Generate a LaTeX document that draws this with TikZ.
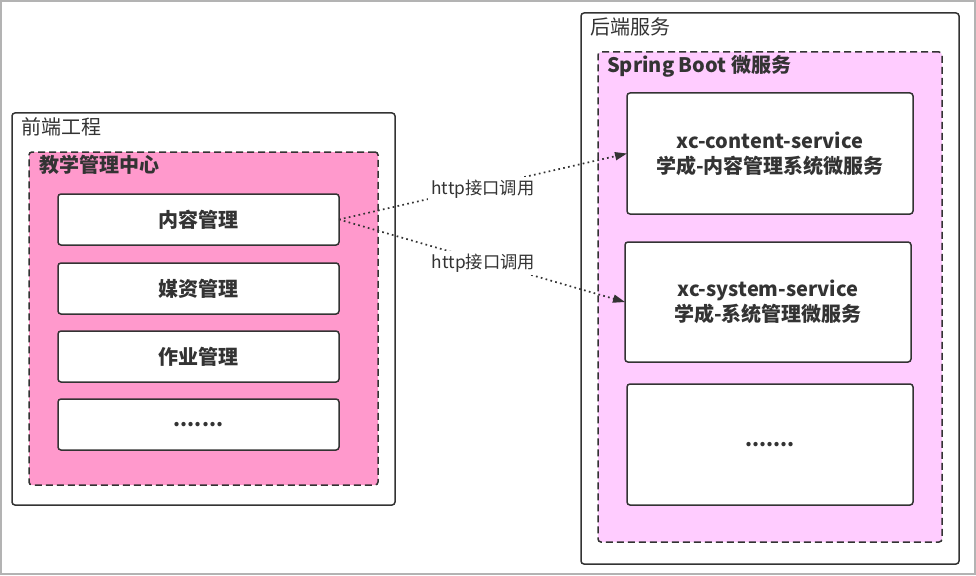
\documentclass[tikz,border=0pt]{standalone}
\usepackage{fontspec}
\setmainfont{Noto Sans CJK SC}
\usetikzlibrary{arrows.meta}
\definecolor{txt}{HTML}{333333}
\definecolor{pinkA}{HTML}{FF99CC}
\definecolor{pinkB}{HTML}{FFCCFF}
\definecolor{frame}{HTML}{B3B3B3}
\begin{document}
\begin{tikzpicture}[x=1pt,y=-1pt,
  cbox/.style={draw=txt,line width=1.5pt,rounded corners=3pt,fill=white,inner sep=0pt,outer sep=0pt,text=txt,font=\fontsize{20}{25}\selectfont\bfseries,align=center},
  dashbox/.style={draw=txt,line width=1.5pt,rounded corners=3pt,dash pattern=on 7pt off 4pt,inner sep=0pt,outer sep=0pt},
  grpbox/.style={draw=txt,line width=1.5pt,rounded corners=3pt,fill=white,inner sep=0pt,outer sep=0pt},
  ttl/.style={anchor=west,text=txt,inner sep=0pt,font=\fontsize{20}{24}\selectfont},
  btl/.style={anchor=west,text=txt,inner sep=0pt,font=\fontsize{20}{24}\selectfont\bfseries},
  call/.style={draw=txt,line width=1.7pt,dash pattern=on 1.7pt off 3.3pt,-{Triangle[length=12pt,width=8pt]}},
  clbl/.style={fill=white,text=txt,inner sep=3pt,font=\fontsize{17.3}{20}\selectfont}]
\useasboundingbox (0,0) rectangle (976,575);
\draw[frame,line width=2pt] (1,1) rectangle (975,574);
% front end
\node[grpbox,minimum width=383pt,minimum height=392pt] (fe) at (203.5,309) {};
\node[ttl] (fet) at (21,127) {前端工程};
\node[dashbox,fill=pinkA,minimum width=349pt,minimum height=333pt] (jx) at (203.5,318.5) {};
\node[btl] (jxt) at (39,165) {教学管理中心};
\node[cbox,minimum width=281pt,minimum height=51pt] (m1) at (198.5,219.5) {内容管理};
\node[cbox,minimum width=281pt,minimum height=51pt] (m2) at (198.5,288.5) {媒资管理};
\node[cbox,minimum width=281pt,minimum height=51pt] (m3) at (198.5,356.5) {作业管理};
\node[cbox,minimum width=281pt,minimum height=51pt] (m4) at (198.5,424.5) {.......};
% back end
\node[grpbox,minimum width=378pt,minimum height=551pt] (be) at (770,288.5) {};
\node[ttl] (bet) at (590,27) {后端服务};
\node[dashbox,fill=pinkB,minimum width=344pt,minimum height=490pt] (sb) at (770,297) {};
\node[btl] (sbt) at (607,66) {Spring Boot 微服务};
\node[cbox,minimum width=286pt,minimum height=121pt] (s1) at (770,153.5) {xc-content-service\\学成-内容管理系统微服务};
\node[cbox,minimum width=286pt,minimum height=120pt] (s2) at (768,302) {xc-system-service\\学成-系统管理微服务};
\node[cbox,minimum width=286pt,minimum height=121pt] (s3) at (770,444.5) {.......};
% calls
\draw[call] (m1.east) -- node[clbl,yshift=-2.5pt] {http接口调用} (s1.west);
\draw[call] (m1.east) -- node[clbl,yshift=-2pt,xshift=1.5pt] {http接口调用} (s2.west);
\end{tikzpicture}
\end{document}
